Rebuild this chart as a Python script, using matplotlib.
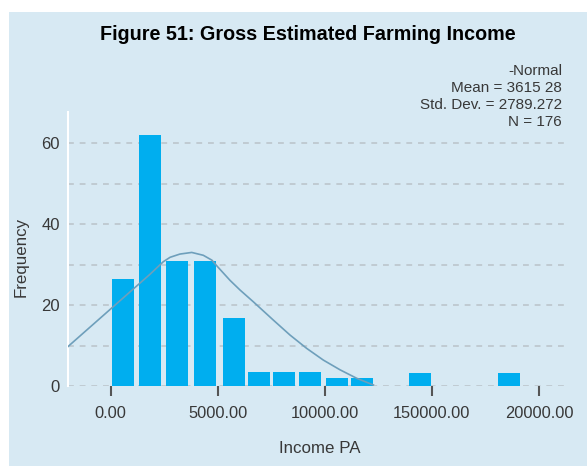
import matplotlib
matplotlib.use("Agg")
import matplotlib.pyplot as plt
from matplotlib.patches import Rectangle

# histogram bins (bin centre, frequency)
bin_centres = [570, 1830, 3075, 4380, 5770, 6925, 8095, 9320, 10580, 11740, 14450, 18610]
frequencies = [26.5, 62, 30.8, 30.8, 16.8, 3.5, 3.5, 3.5, 2, 2, 3.2, 3.2]
bar_width = 1030

# fitted normal curve
curve_x = [-2010, 1830, 2450, 2770, 3230, 3780, 4320, 4720, 4950, 5570, 6040,
           6660, 7590, 8370, 9150, 9930, 10710, 11490, 12270]
curve_y = [9.7, 27.6, 30.7, 31.8, 32.6, 33.0, 32.3, 31.1, 29.7, 26.1, 23.7,
           20.8, 16.3, 12.6, 9.3, 6.4, 4.0, 1.9, 0.25]

tick_values = [0, 5000, 10000, 15000, 20000]
tick_labels = ["0.00", "5000.00", "10000.00", "150000.00", "20000.00"]

stats_lines = ["-Normal", "Mean = 3615 28", "Std. Dev. = 2789.272", "N = 176"]

BG = "#d7e9f3"
BAR = "#00aeef"
CURVE = "#6e9fbb"
GRID = "#bcc6cc"
TEXT = "#383838"

plt.rcParams["font.family"] = ["Liberation Sans", "DejaVu Sans"]

W, H = 587, 466
fig = plt.figure(figsize=(W / 100, H / 100), dpi=100, facecolor="white")
fig.patches.append(Rectangle((9 / W, 0), 1, 1 - 12 / H, transform=fig.transFigure,
                             facecolor=BG, edgecolor="none", zorder=-10))

ax_l, ax_r, ax_t, ax_b = 68, 565, 112, 386
ax = fig.add_axes([ax_l / W, 1 - ax_b / H, (ax_r - ax_l) / W, (ax_b - ax_t) / H])
ax.set_facecolor("none")

ax.bar(bin_centres, frequencies, width=bar_width, color=BAR, zorder=2)
ax.plot(curve_x, curve_y, color=CURVE, lw=1.2, zorder=3)

ax.set_xlim(-2000, 21220)
ax.set_ylim(0, 67.7)

for v in range(0, 61, 10):
    ax.axhline(v, color=GRID, lw=1.2, ls=(0, (3.5, 3.5)), zorder=1)

ax.set_xticks(tick_values)
ax.set_xticklabels(tick_labels)
ax.set_yticks([0, 20, 40, 60])
ax.tick_params(axis="x", direction="out", length=7.5, width=1.5, color="#555555",
               labelsize=11.8, labelcolor=TEXT, pad=7)
ax.tick_params(axis="y", length=0, labelsize=12, labelcolor=TEXT, pad=6)

for side in ["top", "right", "bottom"]:
    ax.spines[side].set_visible(False)
ax.spines["left"].set_color("white")
ax.spines["left"].set_linewidth(1.5)

ax.set_xlabel("Income PA", fontsize=12.2, color=TEXT)
ax.xaxis.set_label_coords((320 - ax_l) / (ax_r - ax_l), (ax_b - 441) / (ax_b - ax_t))
ax.set_ylabel("Frequency", fontsize=12.2, color=TEXT)
ax.yaxis.set_label_coords((29 - ax_l) / (ax_r - ax_l), (ax_b - 257) / (ax_b - ax_t))

fig.text(308 / W, 1 - 34 / H, "Figure 51: Gross Estimated Farming Income",
         ha="center", va="center", fontsize=14.2, fontweight="bold", color="black")

for i, line in enumerate(stats_lines):
    fig.text(562 / W, 1 - (71 + 17 * i) / H, line, ha="right", va="center",
             fontsize=11, color=TEXT)

fig.savefig("out.png", dpi=100, facecolor="white")
